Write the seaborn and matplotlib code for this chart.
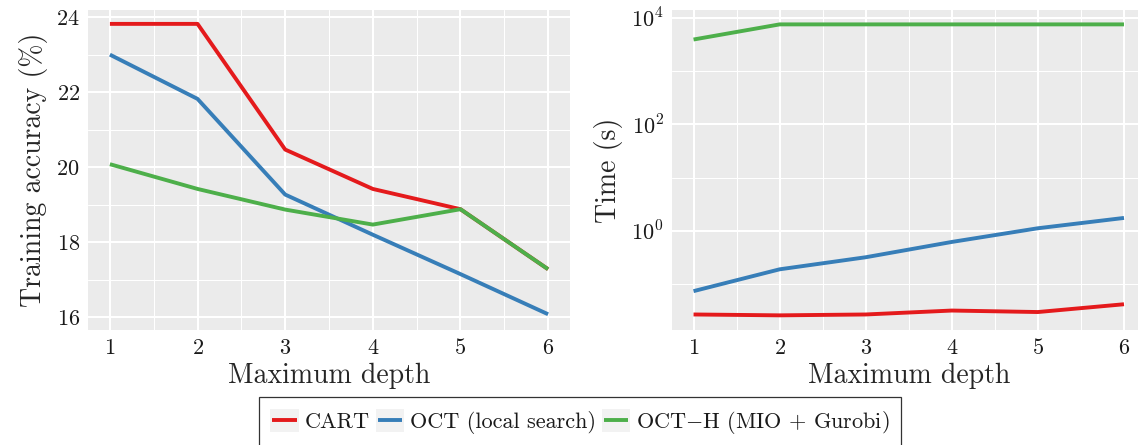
import numpy as np
import pandas as pd
import matplotlib
matplotlib.use('Agg')
import matplotlib.pyplot as plt
import seaborn as sns
from matplotlib.legend_handler import HandlerBase
from matplotlib.patches import Rectangle
from matplotlib.lines import Line2D
from matplotlib.ticker import FixedLocator, FixedFormatter

# ---------------- data ----------------
depths = [1, 2, 3, 4, 5, 6]
methods = ['CART', 'OCT (local search)', r'OCT$-$H (MIO $+$ Gurobi)']
colors = ['#E41A1C', '#377EB8', '#4DAF4A']

acc_cart = [23.82, 23.82, 20.47, 19.42, 18.88, 17.28]
acc_oct = [23.0, 21.82, 19.27, 18.2, 17.15, 16.08]
acc_octh = [20.08, 19.42, 18.87, 18.47, 18.88, 17.28]

time_cart = [0.027, 0.026, 0.027, 0.032, 0.030, 0.042]
time_oct = [0.074, 0.19, 0.32, 0.62, 1.12, 1.75]
time_octh = [3900, 7500, 7500, 7500, 7500, 7500]

acc_ticks = [16, 18, 20, 22, 24]
acc_minor = [17, 19, 21, 23]
time_ticks = [1, 100, 10000]
time_tick_labels = [r'$10^{0}$', r'$10^{2}$', r'$10^{4}$']
time_minor = [0.1, 10, 1000]
x_minor = [1.5, 2.5, 3.5, 4.5, 5.5]

rows = []
for m, a, t in zip(methods, [acc_cart, acc_oct, acc_octh], [time_cart, time_oct, time_octh]):
    for d, av, tv in zip(depths, a, t):
        rows.append({'depth': d, 'method': m, 'acc': av, 'time': tv})
df = pd.DataFrame(rows)

# ---------------- style ----------------
sns.set_theme(style='darkgrid')
plt.rcParams['font.family'] = ['cmr10', 'DejaVu Serif']
plt.rcParams['mathtext.fontset'] = 'cm'
plt.rcParams['axes.unicode_minus'] = False
plt.rcParams['axes.formatter.use_mathtext'] = True
plt.rcParams['axes.facecolor'] = '#EBEBEB'

W, H = 1138, 445
fig = plt.figure(figsize=(W / 100, H / 100), dpi=100)
ax1 = fig.add_axes([88 / W, 1 - 330 / H, (570 - 88) / W, 320 / H])
ax2 = fig.add_axes([672 / W, 1 - 330 / H, (1145.5 - 672) / W, 320 / H])

lw = 2.8
sns.lineplot(data=df, x='depth', y='acc', hue='method', hue_order=methods,
             palette=colors, ax=ax1, lw=lw, legend=False)
sns.lineplot(data=df, x='depth', y='time', hue='method', hue_order=methods,
             palette=colors, ax=ax2, lw=lw, legend=False)
for ln in ax1.get_lines() + ax2.get_lines():
    ln.set_solid_capstyle('butt')
    ln.set_solid_joinstyle('round')

ax2.set_yscale('log')

for ax in (ax1, ax2):
    ax.set_facecolor('#EBEBEB')
    for s in ax.spines.values():
        s.set_visible(False)
    ax.set_xlim(0.75, 6.25)
    ax.xaxis.set_major_locator(FixedLocator(depths))
    ax.xaxis.set_minor_locator(FixedLocator(x_minor))
    ax.grid(which='major', color='white', lw=1.5)
    ax.grid(which='minor', color='white', lw=0.75)
    ax.set_axisbelow(True)
    ax.tick_params(which='major', length=2.9, width=1.0, color='#333333',
                   pad=3, labelsize=16, labelcolor='#1a1a1a')
    ax.tick_params(which='minor', length=0)
    ax.set_xlabel('Maximum depth', fontsize=20, labelpad=3)

ax1.set_ylim(15.66, 24.19)
ax1.yaxis.set_major_locator(FixedLocator(acc_ticks))
ax1.yaxis.set_minor_locator(FixedLocator(acc_minor))
ax1.set_ylabel('Training accuracy (%)', fontsize=20, labelpad=6)

ax2.set_ylim(10 ** -1.86, 10 ** 4.145)
ax2.yaxis.set_major_locator(FixedLocator(time_ticks))
ax2.yaxis.set_major_formatter(FixedFormatter(time_tick_labels))
ax2.yaxis.set_minor_locator(FixedLocator(time_minor))
ax2.yaxis.set_minor_formatter(FixedFormatter(['', '', '']))
ax2.set_ylabel('Time (s)', fontsize=20, labelpad=6)


# ---------------- legend ----------------
class KeyHandler(HandlerBase):
    def create_artists(self, legend, orig_handle, xdescent, ydescent,
                       width, height, fontsize, trans):
        rect = Rectangle((-xdescent, -ydescent), width, height,
                         facecolor='#F2F2F2', edgecolor='none', transform=trans)
        inset = width * 0.07
        y = -ydescent + height / 2
        line = Line2D([-xdescent + inset, -xdescent + width - inset], [y, y],
                      color=orig_handle.get_color(), lw=orig_handle.get_linewidth(),
                      solid_capstyle='butt', transform=trans)
        return [rect, line]


handles = [Line2D([], [], color=c, lw=lw) for c in colors]
leg = fig.legend(handles, methods, loc='upper center',
                 bbox_to_anchor=(580 / W, 1 - 397 / H), ncol=3, fontsize=16,
                 frameon=True, fancybox=False, edgecolor='#333333',
                 facecolor='white', framealpha=1,
                 handlelength=1.27, handleheight=1.27, handletextpad=0.28,
                 columnspacing=0.25, borderpad=0.52, borderaxespad=0,
                 handler_map={Line2D: KeyHandler()})
leg.get_frame().set_linewidth(0.9)
for t in leg.get_texts():
    t.set_color('#1a1a1a')

fig.savefig('out.png', dpi=100)
